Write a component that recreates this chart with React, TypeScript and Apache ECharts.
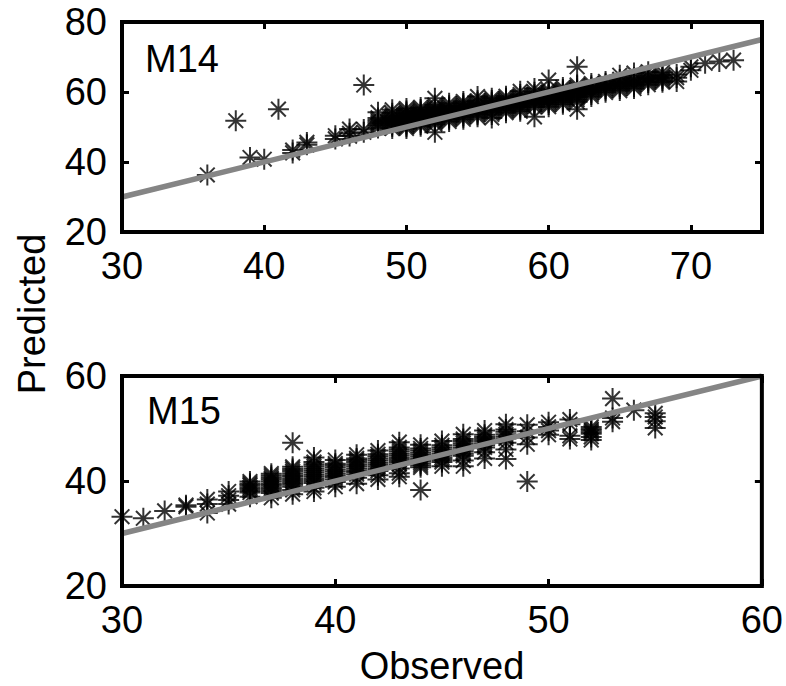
import React, { useEffect, useRef } from "react";
import * as echarts from "echarts";

// ---- Data ----
// Each entry: [observed, [predicted values at that observed value]]
const m14Groups: Array<[number, number[]]> = [
  [36, [36.3]],
  [38, [51.8]],
  [39, [41.3]],
  [40, [40.8]],
  [41, [55.1]],
  [42, [43.4, 42.6]],
  [43, [45.6, 44.9]],
  [45, [47.5, 46.6]],
  [46, [49.4, 48.2, 47.4]],
  [47, [62.0, 49.3, 48.5]],
  [48, [54.2, 52.6, 52.0, 51.5, 51.0, 50.4, 49.7]],
  [49, [54.9, 53.9, 53.3, 52.8, 52.3, 51.8, 51.3, 50.8, 50.2, 49.6]],
  [50, [55.3, 54.6, 54.1, 53.6, 53.1, 52.6, 52.1, 51.6, 51.1, 50.6, 50.1, 49.6]],
  [51, [55.6, 55.0, 54.6, 54.1, 53.6, 53.2, 52.7, 52.2, 51.7, 51.2, 50.7, 50.2]],
  [52, [58.2, 56.3, 55.7, 55.2, 54.7, 54.2, 53.8, 53.3, 52.8, 52.3, 51.8, 51.3, 50.8, 48.5]],
  [53, [56.8, 56.1, 55.6, 55.1, 54.7, 54.2, 53.7, 53.2, 52.7, 52.2, 51.6]],
  [54, [57.3, 56.7, 56.2, 55.7, 55.2, 54.8, 54.3, 53.8, 53.3, 52.8, 52.2]],
  [55, [58.7, 57.5, 57.0, 56.5, 56.0, 55.5, 55.0, 54.5, 54.0, 53.5, 52.9]],
  [56, [58.2, 57.6, 57.1, 56.6, 56.1, 55.7, 55.2, 54.7, 54.2, 53.6, 52.6]],
  [57, [58.8, 58.2, 57.7, 57.2, 56.7, 56.2, 55.7, 55.2, 54.7, 54.1]],
  [58, [60.2, 59.3, 58.7, 58.2, 57.7, 57.2, 56.7, 56.2, 55.7, 55.1, 54.5]],
  [59, [61.0, 59.9, 59.3, 58.8, 58.3, 57.8, 57.3, 56.8, 56.3, 55.7, 52.9]],
  [60, [63.4, 60.6, 60.0, 59.5, 59.0, 58.5, 58.0, 57.5, 57.0, 56.4, 55.8]],
  [61, [61.3, 60.7, 60.2, 59.7, 59.2, 58.7, 58.2, 57.7, 57.1, 56.5]],
  [62, [67.2, 62.0, 61.4, 60.9, 60.4, 59.9, 59.4, 58.9, 58.4, 57.8, 57.2, 55.1]],
  [63, [62.4, 61.8, 61.3, 60.8, 60.3, 59.8, 59.3, 58.7]],
  [64, [63.0, 62.5, 62.0, 61.5, 61.0, 60.5, 59.9]],
  [65, [64.8, 63.6, 63.1, 62.6, 62.1, 61.6, 61.0, 60.4]],
  [66, [65.4, 64.1, 63.6, 63.1, 62.6, 62.1, 61.6, 61.0]],
  [67, [65.8, 64.7, 64.2, 63.7, 63.2, 62.7, 62.1]],
  [68, [65.6, 64.8, 64.3, 63.8, 63.3, 62.8]],
  [69, [65.0, 64.1, 63.0]],
  [70, [67.2, 66.2]],
  [71, [68.2]],
  [72, [68.7]],
  [73, [69.1]],
];

const m15Groups: Array<[number, number[]]> = [
  [30, [33.2]],
  [31, [32.9]],
  [32, [34.3]],
  [33, [35.4, 35.1]],
  [34, [36.5, 35.6, 33.9]],
  [35, [38.0, 37.2, 36.4, 35.6]],
  [36, [39.9, 39.5, 39.2, 38.8, 38.5, 38.1, 37.8, 37.0]],
  [37, [41.4, 41.0, 40.6, 40.3, 39.9, 39.5, 39.2, 38.8, 38.5, 38.1, 37.7, 36.8]],
  [38, [47.3, 42.7, 42.3, 41.9, 41.5, 41.1, 40.8, 40.4, 40.0, 39.6, 39.3, 38.9, 38.3, 37.5]],
  [39, [44.5, 43.6, 43.2, 42.8, 42.4, 42.0, 41.6, 41.2, 40.8, 40.4, 40.0, 39.6, 38.7, 38.0]],
  [40, [44.0, 43.3, 43.0, 42.6, 42.2, 41.8, 41.4, 41.0, 40.7, 40.3, 39.8, 38.9]],
  [41, [45.0, 44.3, 44.0, 43.6, 43.2, 42.8, 42.4, 42.0, 41.7, 41.3, 40.6, 39.5]],
  [42, [45.8, 45.1, 44.7, 44.3, 43.9, 43.5, 43.1, 42.7, 42.3, 41.9, 41.1, 40.3]],
  [43, [47.4, 46.4, 46.0, 45.6, 45.2, 44.8, 44.4, 44.0, 43.6, 43.2, 42.4, 41.5, 40.8]],
  [44, [46.9, 46.2, 45.8, 45.4, 45.0, 44.6, 44.2, 43.8, 43.4, 43.0, 42.6, 38.3]],
  [45, [47.6, 46.8, 46.4, 46.0, 45.6, 45.2, 44.8, 44.4, 44.0, 43.6, 42.8]],
  [46, [48.9, 48.0, 47.6, 47.2, 46.8, 46.4, 46.0, 45.6, 45.2, 44.8, 43.9, 42.8]],
  [47, [49.6, 48.8, 48.4, 48.0, 47.6, 47.2, 46.8, 46.4, 45.5, 44.3]],
  [48, [50.8, 49.8, 49.4, 48.9, 48.5, 48.1, 47.3, 46.0, 44.2]],
  [49, [50.7, 49.5, 48.3, 47.0, 39.9]],
  [50, [51.2, 50.3, 49.6, 48.8]],
  [51, [51.7, 50.8, 48.6, 48.0]],
  [52, [50.3, 49.9, 49.6, 49.3, 49.0, 48.4, 47.8]],
  [53, [55.7, 52.0, 51.3]],
  [54, [53.5]],
  [55, [52.9, 52.2, 51.4, 50.1]],
];

const m14Line = [30, 75];
const m15Line = [30, 60];

const m14XTicks = { min: 30, max: 75, interval: 10 };
const m14YTicks = { min: 20, max: 80, interval: 20 };
const m15XTicks = { min: 30, max: 60, interval: 10 };
const m15YTicks = { min: 20, max: 60, interval: 20 };

const panelNames = ["M14", "M15"];
const xTitle = "Observed";
const yTitle = "Predicted";

// ---- helpers ----
function flatten(groups: Array<[number, number[]]>): number[][] {
  const out: number[][] = [];
  for (const [x, ys] of groups) for (const y of ys) out.push([x, y]);
  return out;
}

const FONT = "'Liberation Sans', Arial, Helvetica, sans-serif";
const FS = 38;
const ASTERISK = "path://M10 0L10 20M0 10L20 10M3 3L17 17M3 17L17 3";

export default function App() {
  const ref = useRef<HTMLDivElement>(null);

  useEffect(() => {
    if (!ref.current) return;
    const chart = echarts.init(ref.current, undefined, { renderer: "svg" });

    const grids = [
      { left: 122, top: 22, width: 640, height: 210 },
      { left: 122, top: 376, width: 640, height: 210 },
    ];
    const xt = [m14XTicks, m15XTicks];
    const yt = [m14YTicks, m15YTicks];

    const tick = { show: true, inside: true, length: 7, lineStyle: { color: "#000", width: 3 } };
    const onTick = (t: { min: number; interval: number }) => (v: number) =>
      Math.abs(((v - t.min) / t.interval) % 1) < 1e-9 ? String(v) : "";

    const xAxes: any[] = [];
    const yAxes: any[] = [];
    [0, 1].forEach((g) => {
      xAxes.push({
        type: "value",
        gridIndex: g,
        position: "bottom",
        ...xt[g],
        axisLine: { show: false },
        axisTick: tick,
        splitLine: { show: false },
        axisLabel: {
          color: "#000",
          fontSize: FS,
          fontFamily: FONT,
          margin: 15,
          formatter: onTick(xt[g]),
        },
      });
      xAxes.push({
        type: "value",
        gridIndex: g,
        position: "top",
        ...xt[g],
        axisLine: { show: false },
        axisTick: tick,
        splitLine: { show: false },
        axisLabel: { show: false },
      });
      yAxes.push({
        type: "value",
        gridIndex: g,
        position: "left",
        ...yt[g],
        axisLine: { show: false },
        axisTick: tick,
        splitLine: { show: false },
        axisLabel: {
          color: "#000",
          fontSize: FS,
          fontFamily: FONT,
          margin: 15,
          formatter: onTick(yt[g]),
        },
      });
      yAxes.push({
        type: "value",
        gridIndex: g,
        position: "right",
        ...yt[g],
        axisLine: { show: false },
        axisTick: tick,
        splitLine: { show: false },
        axisLabel: { show: false },
      });
    });

    const scatter = (g: number, data: number[][]) => ({
      type: "scatter",
      xAxisIndex: g * 2,
      yAxisIndex: g * 2,
      data,
      symbol: ASTERISK,
      symbolSize: 21,
      itemStyle: { color: "transparent", borderColor: "#000", borderWidth: 2 },
      z: 2,
    });
    const line = (g: number, ends: number[]) => ({
      type: "line",
      xAxisIndex: g * 2,
      yAxisIndex: g * 2,
      data: ends.map((v) => [v, v]),
      symbol: "none",
      lineStyle: { color: "#858585", width: 5.5 },
      z: 3,
    });

    chart.setOption({
      animation: false,
      backgroundColor: "#fff",
      grid: grids.map((g) => ({
        ...g,
        show: true,
        borderColor: "#000",
        borderWidth: 4,
        backgroundColor: "transparent",
        z: 4,
      })),
      xAxis: xAxes,
      yAxis: yAxes,
      series: [
        scatter(0, flatten(m14Groups)),
        line(0, m14Line),
        scatter(1, flatten(m15Groups)),
        line(1, m15Line),
      ],
      graphic: [
        {
          type: "text",
          left: 145,
          top: 59 - FS / 2,
          style: { text: panelNames[0], fontSize: FS, fontFamily: FONT, fill: "#000" },
        },
        {
          type: "text",
          left: 147,
          top: 411 - FS / 2,
          style: { text: panelNames[1], fontSize: FS, fontFamily: FONT, fill: "#000" },
        },
        {
          type: "text",
          x: 442,
          y: 666,
          style: {
            text: xTitle,
            fontSize: FS,
            fontFamily: FONT,
            fill: "#000",
            align: "center",
            verticalAlign: "middle",
          },
        },
        {
          type: "text",
          x: 32,
          y: 314,
          rotation: Math.PI / 2,
          style: {
            text: yTitle,
            fontSize: FS,
            fontFamily: FONT,
            fill: "#000",
            align: "center",
            verticalAlign: "middle",
          },
        },
      ],
    });

    return () => chart.dispose();
  }, []);

  return (
    <div
      ref={ref}
      style={{ position: "fixed", left: 0, top: 0, width: 786, height: 686, background: "#fff" }}
    />
  );
}
